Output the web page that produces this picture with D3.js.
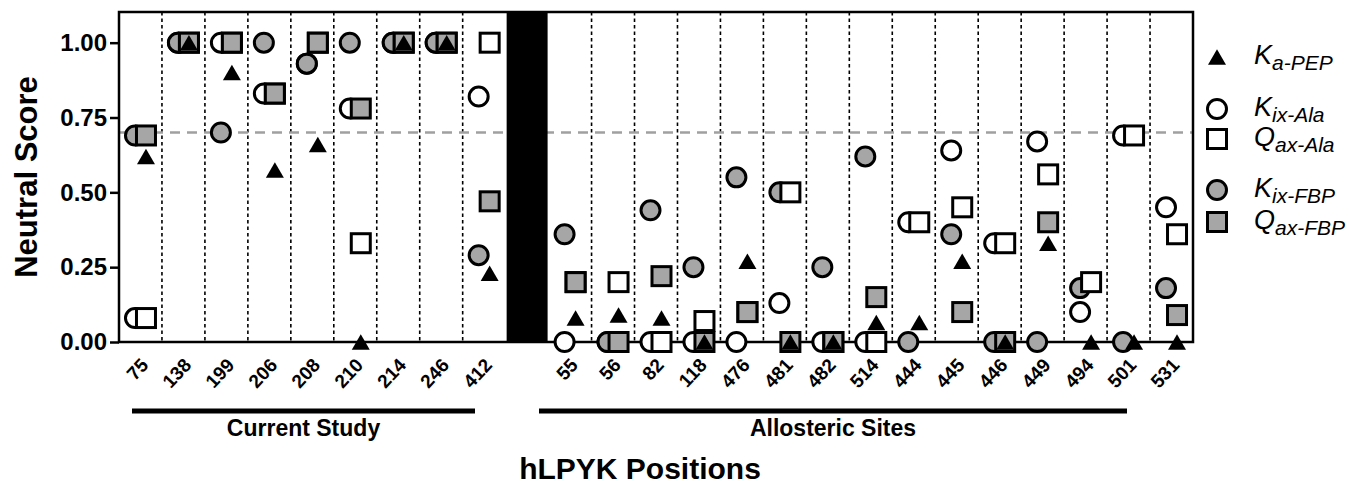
<!DOCTYPE html>
<html>
<head>
<meta charset="utf-8">
<script src="https://cdn.jsdelivr.net/npm/d3@7"></script>
<style>
  body { margin: 0; background: #fff; }
  svg { display: block; font-family: "Liberation Sans", Arial, sans-serif; }
</style>
</head>
<body>
<div id="chart"></div>
<script>
// categories
const currentStudy = ["75", "138", "199", "206", "208", "210", "214", "246", "412"];
const allostericSites = ["55", "56", "82", "118", "476", "481", "482", "514", "444", "445", "446", "449", "494", "501", "531"];
const yTicks = [0, 0.25, 0.5, 0.75, 1.0];
const neutralCutoff = 0.70;

// series values, current study first then allosteric sites (null = not shown)
const kaPEP  = [0.62, 1.00, 0.90, 0.575, 0.66, 0.00, 1.00, 1.00, 0.23,
                0.08, 0.09, 0.08, 0.00, 0.27, 0.00, 0.00, 0.065, 0.065, 0.27, 0.00, 0.33, 0.00, 0.00, 0.00];
const kixAla = [0.08, 1.00, 1.00, 0.83, 0.93, 0.78, 1.00, 1.00, 0.82,
                0.00, 0.00, 0.00, 0.00, 0.00, 0.13, 0.00, 0.00, 0.40, 0.64, 0.33, 0.67, 0.10, 0.69, 0.45];
const qaxAla = [0.08, 1.00, 1.00, 0.83, 1.00, 0.33, 1.00, 1.00, 1.00,
                0.20, 0.20, 0.00, 0.07, 0.10, 0.50, 0.00, 0.00, 0.40, 0.45, 0.33, 0.56, 0.20, 0.69, 0.36];
const kixFBP = [0.69, 1.00, 0.70, 1.00, 0.93, 1.00, 1.00, 1.00, 0.29,
                0.36, 0.00, 0.44, 0.25, 0.55, 0.50, 0.25, 0.62, 0.00, 0.36, 0.00, 0.00, 0.18, 0.00, 0.18];
const qaxFBP = [0.69, 1.00, 1.00, 0.83, 1.00, 0.78, 1.00, 1.00, 0.47,
                0.20, 0.00, 0.22, 0.00, 0.10, 0.00, 0.00, 0.15, null, 0.10, 0.00, 0.40, null, null, 0.09];

const W = 1349, H = 487;
const margin = { left: 119, right: 156, top: 12, bottom: 145 };
const GRAY = "#a6a6a6";
const FONT = '"Liberation Sans", Arial, sans-serif';

const positions = currentStudy.concat(allostericSites);
const slots = currentStudy.concat(["gap"], allostericSites);

const svg = d3.select("#chart").append("svg")
  .attr("width", W)
  .attr("height", H);

const x = d3.scaleBand()
  .domain(slots)
  .range([margin.left, W - margin.right])
  .padding(0);

const y = d3.scaleLinear()
  .domain([0, 1.1025])
  .range([H - margin.bottom, margin.top]);

const x0 = margin.left, x1 = W - margin.right;
const yTop = margin.top, yBot = H - margin.bottom;

// dotted dividers between positions
const dividers = currentStudy.slice(1).concat(allostericSites.slice(1));
svg.append("g")
  .selectAll("line")
  .data(dividers)
  .enter().append("line")
  .attr("x1", d => x(d)).attr("x2", d => x(d))
  .attr("y1", yTop).attr("y2", yBot)
  .attr("stroke", "#000")
  .attr("stroke-width", 1.6)
  .attr("stroke-dasharray", "3.5,3");

// neutral cutoff
svg.append("line")
  .attr("x1", x0).attr("x2", x1)
  .attr("y1", y(neutralCutoff)).attr("y2", y(neutralCutoff))
  .attr("stroke", "#a0a0a0")
  .attr("stroke-width", 2.5)
  .attr("stroke-dasharray", "10,7");

// black separator
svg.append("rect")
  .attr("x", x("gap") + 1)
  .attr("width", x.bandwidth() - 2)
  .attr("y", yTop)
  .attr("height", yBot - yTop)
  .attr("fill", "#000");

// frame
svg.append("rect")
  .attr("x", x0).attr("y", yTop)
  .attr("width", x1 - x0).attr("height", yBot - yTop)
  .attr("fill", "none")
  .attr("stroke", "#000")
  .attr("stroke-width", 2.5);

// y axis
const yAxis = svg.append("g")
  .attr("transform", `translate(${x0},0)`)
  .call(d3.axisLeft(y).tickValues(yTicks).tickFormat(d3.format(".2f")).tickSize(9).tickPadding(3));
yAxis.select(".domain").remove();
yAxis.selectAll(".tick line").attr("stroke-width", 2.5);
yAxis.selectAll("text")
  .attr("font-size", 24).attr("font-weight", "bold").attr("font-family", FONT).attr("fill", "#000");

// x axis
const xAxis = svg.append("g")
  .attr("transform", `translate(0,${yBot})`)
  .call(d3.axisBottom(x).tickSize(0));
xAxis.select(".domain").remove();
xAxis.selectAll(".tick").filter(d => d === "gap").remove();
xAxis.selectAll("text")
  .attr("x", 0).attr("y", 0).attr("dy", null)
  .attr("transform", "translate(9,24) rotate(-47)")
  .style("text-anchor", "end")
  .attr("font-size", 19).attr("font-weight", "bold").attr("font-family", FONT).attr("fill", "#000");

// symbols
const triPath = "M0,-7.75L9,7.75L-9,7.75Z";
const series = [
  { values: kixAla, shape: "circle", fill: "#fff", dx: -5.5 },
  { values: kixFBP, shape: "circle", fill: GRAY, dx: -5.5 },
  { values: qaxAla, shape: "square", fill: "#fff", dx: 5.5 },
  { values: qaxFBP, shape: "square", fill: GRAY, dx: 5.5 },
  { values: kaPEP, shape: "triangle", fill: "#000", dx: 5.5 }
];

function drawSymbol(g, shape, fill) {
  if (shape === "circle") {
    g.append("circle").attr("r", 9.5).attr("fill", fill).attr("stroke", "#000").attr("stroke-width", 3);
  } else if (shape === "square") {
    g.append("rect").attr("x", -9.5).attr("y", -9.5).attr("width", 19).attr("height", 19)
      .attr("fill", fill).attr("stroke", "#000").attr("stroke-width", 3);
  } else {
    g.append("path").attr("d", triPath).attr("fill", fill);
  }
}

const marks = svg.append("g");
series.forEach(s => {
  s.values.forEach((v, i) => {
    if (v === null) return;
    const p = positions[i];
    const g = marks.append("g")
      .attr("transform", `translate(${x(p) + x.bandwidth() / 2 + s.dx},${y(v)})`);
    drawSymbol(g, s.shape, s.fill);
  });
});

// group brackets
const groups = [
  { label: "Current Study", from: 132, to: 475 },
  { label: "Allosteric Sites", from: 539, to: 1127 }
];
groups.forEach(gr => {
  svg.append("line")
    .attr("x1", gr.from).attr("x2", gr.to)
    .attr("y1", 411).attr("y2", 411)
    .attr("stroke", "#000").attr("stroke-width", 5);
  svg.append("text")
    .attr("x", (gr.from + gr.to) / 2).attr("y", 436)
    .attr("text-anchor", "middle")
    .attr("font-size", 23).attr("font-weight", "bold").attr("font-family", FONT)
    .text(gr.label);
});

// axis titles
svg.append("text")
  .attr("x", 640).attr("y", 479)
  .attr("text-anchor", "middle")
  .attr("font-size", 30).attr("font-weight", "bold").attr("font-family", FONT)
  .text("hLPYK Positions");

svg.append("text")
  .attr("transform", `translate(37,${(yTop + yBot) / 2}) rotate(-90)`)
  .attr("text-anchor", "middle")
  .attr("font-size", 31).attr("font-weight", "bold").attr("font-family", FONT)
  .text("Neutral Score");

// legend
const legendItems = [
  { main: "K", sub: "a-PEP", shape: "triangle", fill: "#000", cy: 57 },
  { main: "K", sub: "ix-Ala", shape: "circle", fill: "#fff", cy: 109 },
  { main: "Q", sub: "ax-Ala", shape: "square", fill: "#fff", cy: 139 },
  { main: "K", sub: "ix-FBP", shape: "circle", fill: GRAY, cy: 190 },
  { main: "Q", sub: "ax-FBP", shape: "square", fill: GRAY, cy: 222 }
];
legendItems.forEach(it => {
  const g = svg.append("g").attr("transform", `translate(1217,${it.cy})`);
  drawSymbol(g, it.shape, it.fill);
  const t = svg.append("text")
    .attr("x", 1254).attr("y", it.cy + 7)
    .attr("font-family", FONT).attr("font-style", "italic");
  t.append("tspan").attr("font-size", 27).text(it.main);
  t.append("tspan").attr("font-size", 21).attr("dy", 6).text(it.sub);
});
</script>
</body>
</html>
